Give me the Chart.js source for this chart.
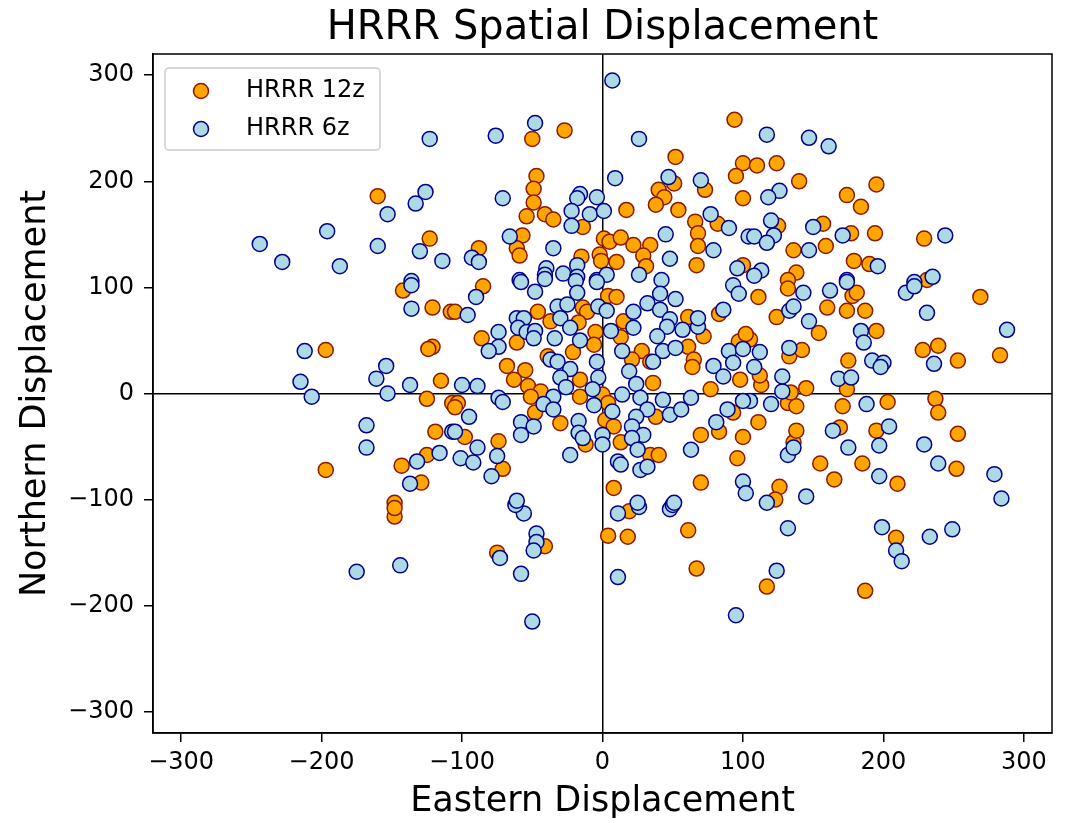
<!DOCTYPE html>
<html>
<head>
<meta charset="utf-8">
<script src="https://cdn.jsdelivr.net/npm/chart.js@4.4.1/dist/chart.umd.min.js"></script>
<style>
  html, body { margin: 0; padding: 0; background: #fff; }
  #wrap { width: 1073px; height: 823px; }
</style>
</head>
<body>
<div id="wrap"><canvas id="scatter" width="1073" height="823"></canvas></div>
<script>
// HRRR 12z displacements (east, north)
const x12 = [-50,-27,94,52,100,95,100,51,73,40,44,38,54,17,66,82,68,68,67,-47,-49,-49,-54,-41,-35,-14,-57,-88,-61,-59,1,5,13,22,34,29,31,-2,-1,10,-15,100,
  -160,-123,
  110,124,140,195,174,184,125,157,177,194,229,136,159,179,190,138,132,231,
  269,283,253,239,228,237,239,253,252,203,195,210,185,169,155,165,126,123,136,138,111,171,132,138,145,134,174,175,113,112,133,142,154,195,124,160,174,187,178,181,111,132,105,
  -142,-121,-108,-197,-121,-124,-115,-125,-107,-119,-197,-125,-143,-129,-148,
  -148,-148,
  -41,-75,4,18,19,61,67,
  117,187,209,
  -85,-105,-86,-61,-68,-55,-63,-53,-44,-51,-46,-37,-14,-11,-17,-5,-6,-21,-39,4,10,15,13,28,21,34,61,72,61,65,64,83,97,102,98,77,36,-16,-16,0,4,2,8,13,-12,-30,-48,38,34,40,93,83,70,100,96,70,8,-74,-98,-71,-103,-105];
const y12 = [240,248,258,223,217,205,184,198,192,192,185,178,173,173,162,160,151,139,121,205,193,180,167,169,164,157,149,137,137,130,146,143,147,140,140,130,120,131,125,124,129,121,
  186,146,
  215,217,200,197,187,176,158,160,151,151,146,135,139,125,122,114,107,107,
  91,36,31,45,41,-5,-18,-38,-71,-8,-35,-85,-66,-32,-66,-81,-88,-100,-46,-35,-27,-12,-9,-12,5,1,4,31,8,17,35,41,57,59,72,81,78,78,92,95,91,99,51,
  97,81,77,41,44,42,12,-5,-9,-36,-72,-58,-68,-84,-103,
  -116,-108,
  -144,-150,-134,-135,-111,-129,-165,
  -182,-186,-136,
  101,77,52,48,26,22,13,7,2,-3,77,68,81,77,67,58,46,39,35,92,91,68,53,40,32,30,72,54,44,32,25,75,49,56,13,4,10,13,-3,-1,-9,-25,-31,-46,-48,-28,-18,-22,-58,-58,-18,-36,-39,-41,-61,-84,-89,-45,-41,-71,-9,-13];

// HRRR 6z displacements (east, north)
const x6 = [7,-48,-76,26,9,47,70,77,90,45,79,48,96,-71,-16,-18,-4,-22,-9,1,-22,-66,-93,-88,-35,-18,-40,-41,-28,-18,-4,3,26,-59,42,104,
  -123,-126,-133,-153,-196,-160,-130,-114,-244,-228,-187,-136,
  117,147,161,126,118,120,122,108,117,150,171,244,147,196,113,108,174,222,235,
  288,236,231,216,222,239,229,279,284,188,204,197,197,175,164,145,117,132,136,120,105,128,128,168,177,192,200,198,108,112,133,147,184,186,133,136,162,143,174,
  -136,-136,-212,-154,-161,-215,-207,-153,-137,-107,-168,-168,-116,-132,-137,
  -175,-144,
  -56,-62,-47,-47,-49,-73,-58,-50,11,26,48,50,11,95,
  132,124,199,209,213,233,249,
  -58,-48,-41,-19,-18,-4,-90,-96,-74,-74,-81,-61,-56,-60,-54,-48,-49,-32,-25,-30,-23,-16,-34,-3,3,6,14,22,22,32,41,41,52,48,46,57,39,68,68,86,93,97,43,52,36,90,100,79,93,86,-37,-32,-23,-30,-26,-35,-42,-35,-4,-3,-7,-6,19,24,14,27,32,7,24,21,29,21,25,0,0,-17,-17,-14,-58,-58,-49,-23,11,13,27,32,43,48,56,63,89,81,63,100,100,102,-100,-89,-74,-71,-95,-105,-89,-101,-92,-75,-79,-61,25,51];
const y6 = [295,255,243,240,203,204,201,169,156,150,135,127,118,184,188,184,185,172,169,172,158,148,128,124,137,121,118,112,113,110,107,112,112,107,107,148,
  240,190,179,169,153,139,134,125,141,124,120,106,
  244,241,233,191,185,163,149,148,142,157,149,149,135,120,116,111,107,105,110,
  60,28,76,95,101,-66,-48,-76,-99,-10,-31,-49,-78,-51,-35,-97,-103,-58,-51,-10,-7,2,16,14,15,31,29,25,25,39,43,68,59,48,78,82,97,95,105,
  102,80,40,26,14,11,-3,0,8,-36,-30,-51,-56,-64,-85,
  -168,-162,
  -113,-105,-132,-140,-148,-155,-170,-215,-113,-107,-109,-105,-173,-209,
  -127,-167,-126,-148,-158,-135,-128,
  105,96,108,106,95,105,91,74,58,44,40,71,71,62,58,59,52,82,84,71,62,50,52,82,78,59,40,77,62,85,94,79,89,70,63,60,54,63,71,79,102,94,40,43,30,40,42,26,29,16,32,30,23,15,6,-3,-10,-15,30,15,4,-11,21,9,-1,-4,-15,-17,-22,-31,-39,-42,-53,-39,-48,-26,-37,-42,-27,-39,-31,-58,-64,-67,-72,-69,-6,-20,-15,-4,-15,-27,-53,-7,-83,-94,8,7,-4,-8,-22,-36,-51,-61,-65,-59,-78,-101,-103,-103];

const tickValues = [-300, -200, -100, 0, 100, 200, 300];

const pts = (xs, ys) => xs.map((v, i) => ({ x: v, y: ys[i] }));

const fmt = v => (v < 0 ? '\u2212' + Math.abs(v) : String(v));

// frame round the plot area and legend drawn inside it
const framePlugin = {
  id: 'frame',
  afterDatasetsDraw(chart) {
    const { ctx, chartArea: a } = chart;
    ctx.save();
    ctx.strokeStyle = '#000';
    ctx.lineWidth = 1.5;
    ctx.strokeRect(a.left, a.top, a.right - a.left, a.bottom - a.top);

    // legend box
    const bx = a.left + 12, by = a.top + 14, bw = 215, bh = 82;
    ctx.fillStyle = 'rgba(255,255,255,0.85)';
    ctx.strokeStyle = '#cccccc';
    ctx.lineWidth = 1.5;
    ctx.beginPath();
    ctx.roundRect(bx, by, bw, bh, 4);
    ctx.fill();
    ctx.stroke();

    const entries = [
      { label: 'HRRR 12z', fill: '#FFA500', edge: '#8B1A00' },
      { label: 'HRRR 6z', fill: '#ADD8E6', edge: '#00008B' }
    ];
    ctx.font = '24px "DejaVu Sans"';
    ctx.textBaseline = 'middle';
    entries.forEach((e, i) => {
      const cy = by + 23 + i * 38;
      ctx.beginPath();
      ctx.arc(bx + 36, cy, 7.5, 0, Math.PI * 2);
      ctx.fillStyle = e.fill;
      ctx.fill();
      ctx.lineWidth = 1.5;
      ctx.strokeStyle = e.edge;
      ctx.stroke();
      ctx.fillStyle = '#000';
      ctx.fillText(e.label, bx + 81, cy);
    });
    ctx.restore();
  }
};

const axisGrid = {
  color: c => (c.tick && c.tick.value === 0 ? '#000' : 'rgba(0,0,0,0)'),
  lineWidth: 1.5,
  tickColor: '#000',
  tickLength: 9,
  drawTicks: true
};

const ctx = document.getElementById('scatter').getContext('2d');
const chart = new Chart(ctx, {
  type: 'scatter',
  data: {
    datasets: [
      {
        label: 'HRRR 12z',
        data: pts(x12, y12),
        backgroundColor: '#FFA500',
        borderColor: '#8B1A00',
        borderWidth: 1.5,
        pointRadius: 7.5,
        order: 2
      },
      {
        label: 'HRRR 6z',
        data: pts(x6, y6),
        backgroundColor: '#ADD8E6',
        borderColor: '#00008B',
        borderWidth: 1.5,
        pointRadius: 7.5,
        order: 1
      }
    ]
  },
  options: {
    responsive: false,
    animation: false,
    layout: { padding: { left: 0, right: 21, top: 0, bottom: 0 } },
    scales: {
      x: {
        type: 'linear',
        min: -320,
        max: 320,
        afterBuildTicks: s => { s.ticks = tickValues.map(v => ({ value: v })); },
        afterFit: s => { s.height = 90; },
        grid: axisGrid,
        border: { display: true, color: '#000', width: 1.5 },
        ticks: {
          color: '#000',
          padding: 6,
          maxRotation: 0,
          font: { family: 'DejaVu Sans', size: 24 },
          callback: v => fmt(v)
        },
        title: {
          display: true,
          text: 'Eastern Displacement',
          color: '#000',
          font: { family: 'DejaVu Sans', size: 35 },
          padding: { top: 2, bottom: 0 }
        }
      },
      y: {
        type: 'linear',
        min: -320,
        max: 320,
        afterBuildTicks: s => { s.ticks = tickValues.map(v => ({ value: v })); },
        afterFit: s => { s.width = 153; },
        grid: axisGrid,
        border: { display: true, color: '#000', width: 1.5 },
        ticks: {
          color: '#000',
          padding: 10,
          font: { family: 'DejaVu Sans', size: 24 },
          callback: v => fmt(v)
        },
        title: {
          display: true,
          text: 'Northern Displacement',
          color: '#000',
          font: { family: 'DejaVu Sans', size: 35 },
          padding: { top: 15, bottom: 2 }
        }
      }
    },
    plugins: {
      legend: { display: false },
      tooltip: { enabled: false },
      title: {
        display: true,
        fullSize: false,
        text: 'HRRR Spatial Displacement',
        color: '#000',
        font: { family: 'DejaVu Sans', size: 40, weight: 'normal' },
        padding: { top: 5, bottom: 1 }
      }
    }
  },
  plugins: [framePlugin]
});
</script>
</body>
</html>
